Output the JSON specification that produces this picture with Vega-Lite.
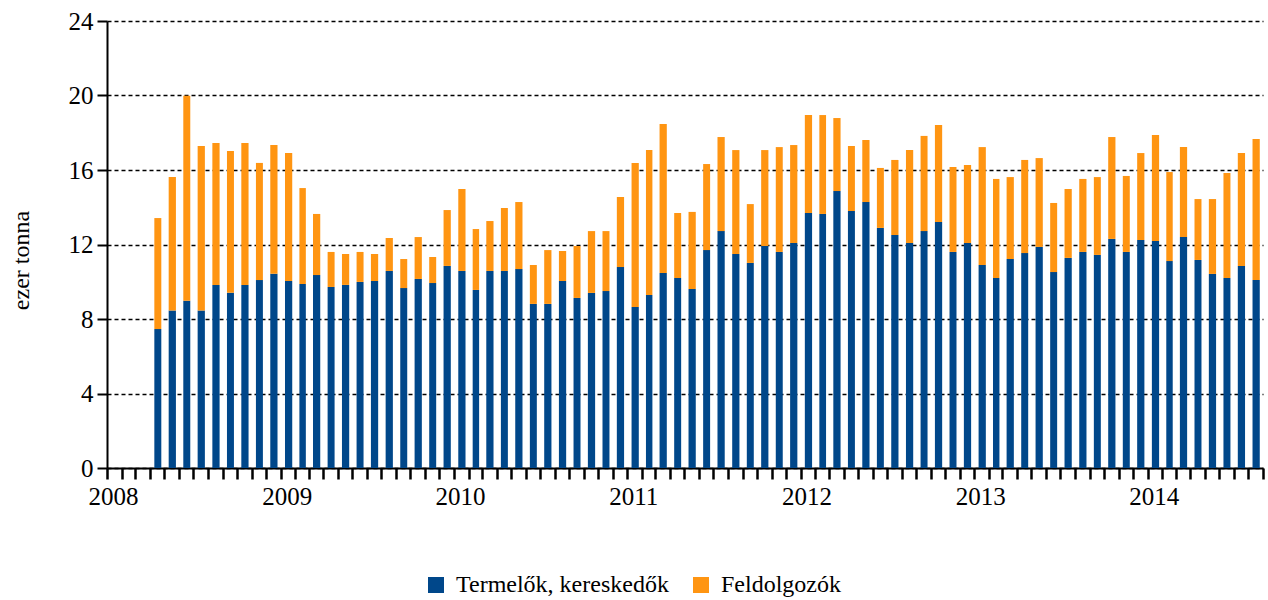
{
  "$schema": "https://vega.github.io/schema/vega-lite/v6.json",
  "width": 1156,
  "height": 447,
  "autosize": {"type": "none"},
  "padding": {"left": 107, "top": 21, "right": 5, "bottom": 132},
  "background": "white",
  "config": {"view": {"stroke": null}},
  "data": {
    "values": [
      {"d": "2008-04-01", "Termelők, kereskedők": 7.46, "Feldolgozók": 5.96},
      {"d": "2008-05-01", "Termelők, kereskedők": 8.45, "Feldolgozók": 7.17},
      {"d": "2008-06-01", "Termelők, kereskedők": 8.98, "Feldolgozók": 11.01},
      {"d": "2008-07-01", "Termelők, kereskedők": 8.45, "Feldolgozók": 8.84},
      {"d": "2008-08-01", "Termelők, kereskedők": 9.83, "Feldolgozók": 7.62},
      {"d": "2008-09-01", "Termelők, kereskedők": 9.41, "Feldolgozók": 7.61},
      {"d": "2008-10-01", "Termelők, kereskedők": 9.83, "Feldolgozók": 7.62},
      {"d": "2008-11-01", "Termelők, kereskedők": 10.09, "Feldolgozók": 6.29},
      {"d": "2008-12-01", "Termelők, kereskedők": 10.43, "Feldolgozók": 6.91},
      {"d": "2009-01-01", "Termelők, kereskedők": 10.04, "Feldolgozók": 6.87},
      {"d": "2009-02-01", "Termelők, kereskedők": 9.88, "Feldolgozók": 5.15},
      {"d": "2009-03-01", "Termelők, kereskedők": 10.36, "Feldolgozók": 3.28},
      {"d": "2009-04-01", "Termelők, kereskedők": 9.72, "Feldolgozók": 1.88},
      {"d": "2009-05-01", "Termelők, kereskedők": 9.83, "Feldolgozók": 1.66},
      {"d": "2009-06-01", "Termelők, kereskedők": 9.99, "Feldolgozók": 1.61},
      {"d": "2009-07-01", "Termelők, kereskedők": 10.04, "Feldolgozók": 1.45},
      {"d": "2009-08-01", "Termelők, kereskedők": 10.58, "Feldolgozók": 1.77},
      {"d": "2009-09-01", "Termelők, kereskedők": 9.66, "Feldolgozók": 1.56},
      {"d": "2009-10-01", "Termelők, kereskedők": 10.15, "Feldolgozók": 2.25},
      {"d": "2009-11-01", "Termelők, kereskedők": 9.93, "Feldolgozók": 1.40},
      {"d": "2009-12-01", "Termelők, kereskedők": 10.85, "Feldolgozók": 3.00},
      {"d": "2010-01-01", "Termelők, kereskedők": 10.58, "Feldolgozók": 4.40},
      {"d": "2010-02-01", "Termelők, kereskedők": 9.56, "Feldolgozók": 3.27},
      {"d": "2010-03-01", "Termelők, kereskedők": 10.58, "Feldolgozók": 2.68},
      {"d": "2010-04-01", "Termelők, kereskedők": 10.58, "Feldolgozók": 3.38},
      {"d": "2010-05-01", "Termelők, kereskedők": 10.68, "Feldolgozók": 3.60},
      {"d": "2010-06-01", "Termelők, kereskedők": 8.81, "Feldolgozók": 2.09},
      {"d": "2010-07-01", "Termelők, kereskedők": 8.81, "Feldolgozók": 2.89},
      {"d": "2010-08-01", "Termelők, kereskedők": 10.04, "Feldolgozók": 1.61},
      {"d": "2010-09-01", "Termelők, kereskedők": 9.13, "Feldolgozók": 2.79},
      {"d": "2010-10-01", "Termelők, kereskedők": 9.40, "Feldolgozók": 3.32},
      {"d": "2010-11-01", "Termelők, kereskedők": 9.50, "Feldolgozók": 3.22},
      {"d": "2010-12-01", "Termelők, kereskedők": 10.79, "Feldolgozók": 3.76},
      {"d": "2011-01-01", "Termelők, kereskedők": 8.64, "Feldolgozók": 7.74},
      {"d": "2011-02-01", "Termelők, kereskedők": 9.29, "Feldolgozók": 7.78},
      {"d": "2011-03-01", "Termelők, kereskedők": 10.47, "Feldolgozók": 8.00},
      {"d": "2011-04-01", "Termelők, kereskedők": 10.20, "Feldolgozók": 3.49},
      {"d": "2011-05-01", "Termelők, kereskedők": 9.61, "Feldolgozók": 4.14},
      {"d": "2011-06-01", "Termelők, kereskedők": 11.70, "Feldolgozók": 4.62},
      {"d": "2011-07-01", "Termelők, kereskedők": 12.72, "Feldolgozók": 5.05},
      {"d": "2011-08-01", "Termelők, kereskedők": 11.49, "Feldolgozók": 5.58},
      {"d": "2011-09-01", "Termelők, kereskedők": 11.01, "Feldolgozók": 3.16},
      {"d": "2011-10-01", "Termelők, kereskedők": 11.92, "Feldolgozók": 5.15},
      {"d": "2011-11-01", "Termelők, kereskedők": 11.60, "Feldolgozók": 5.63},
      {"d": "2011-12-01", "Termelők, kereskedők": 12.08, "Feldolgozók": 5.26},
      {"d": "2012-01-01", "Termelők, kereskedők": 13.69, "Feldolgozók": 5.26},
      {"d": "2012-02-01", "Termelők, kereskedők": 13.64, "Feldolgozók": 5.31},
      {"d": "2012-03-01", "Termelők, kereskedők": 14.87, "Feldolgozók": 3.92},
      {"d": "2012-04-01", "Termelők, kereskedők": 13.80, "Feldolgozók": 3.49},
      {"d": "2012-05-01", "Termelők, kereskedők": 14.28, "Feldolgozók": 3.33},
      {"d": "2012-06-01", "Termelők, kereskedők": 12.89, "Feldolgozók": 3.22},
      {"d": "2012-07-01", "Termelők, kereskedők": 12.51, "Feldolgozók": 4.03},
      {"d": "2012-08-01", "Termelők, kereskedők": 12.08, "Feldolgozók": 4.99},
      {"d": "2012-09-01", "Termelők, kereskedők": 12.72, "Feldolgozók": 5.11},
      {"d": "2012-10-01", "Termelők, kereskedők": 13.21, "Feldolgozók": 5.21},
      {"d": "2012-11-01", "Termelők, kereskedők": 11.60, "Feldolgozók": 4.56},
      {"d": "2012-12-01", "Termelők, kereskedők": 12.08, "Feldolgozók": 4.19},
      {"d": "2013-01-01", "Termelők, kereskedők": 10.90, "Feldolgozók": 6.33},
      {"d": "2013-02-01", "Termelők, kereskedők": 10.20, "Feldolgozók": 5.32},
      {"d": "2013-03-01", "Termelők, kereskedők": 11.22, "Feldolgozók": 4.40},
      {"d": "2013-04-01", "Termelők, kereskedők": 11.54, "Feldolgozók": 5.00},
      {"d": "2013-05-01", "Termelők, kereskedők": 11.87, "Feldolgozók": 4.77},
      {"d": "2013-06-01", "Termelők, kereskedők": 10.52, "Feldolgozók": 3.71},
      {"d": "2013-07-01", "Termelők, kereskedők": 11.28, "Feldolgozók": 3.70},
      {"d": "2013-08-01", "Termelők, kereskedők": 11.60, "Feldolgozók": 3.92},
      {"d": "2013-09-01", "Termelők, kereskedők": 11.44, "Feldolgozók": 4.18},
      {"d": "2013-10-01", "Termelők, kereskedők": 12.30, "Feldolgozók": 5.47},
      {"d": "2013-11-01", "Termelők, kereskedők": 11.60, "Feldolgozók": 4.08},
      {"d": "2013-12-01", "Termelők, kereskedők": 12.24, "Feldolgozók": 4.67},
      {"d": "2014-01-01", "Termelők, kereskedők": 12.19, "Feldolgozók": 5.69},
      {"d": "2014-02-01", "Termelők, kereskedők": 11.11, "Feldolgozók": 4.78},
      {"d": "2014-03-01", "Termelők, kereskedők": 12.40, "Feldolgozók": 4.83},
      {"d": "2014-04-01", "Termelők, kereskedők": 11.17, "Feldolgozók": 3.27},
      {"d": "2014-05-01", "Termelők, kereskedők": 10.42, "Feldolgozók": 4.02},
      {"d": "2014-06-01", "Termelők, kereskedők": 10.20, "Feldolgozók": 5.64},
      {"d": "2014-07-01", "Termelők, kereskedők": 10.85, "Feldolgozók": 6.06},
      {"d": "2014-08-01", "Termelők, kereskedők": 10.09, "Feldolgozók": 7.57}
    ]
  },
  "transform": [
    {"fold": ["Termelők, kereskedők", "Feldolgozók"], "as": ["series", "value"]}
  ],
  "mark": {"type": "bar", "width": {"band": 0.56}},
  "encoding": {
    "x": {
      "field": "d",
      "type": "temporal",
      "timeUnit": "utcyearmonth",
      "title": null,
      "scale": {
        "type": "utc",
        "domain": [
          {"year": 2008, "month": 1, "date": 1, "utc": true},
          {"year": 2014, "month": 9, "date": 1, "utc": true}
        ]
      },
      "axis": {
        "tickCount": {"interval": "month", "step": 1},
        "labelExpr": "utcmonth(datum.value) == 0 ? utcFormat(datum.value, '%Y') : ''",
        "grid": false,
        "domainColor": "black",
        "domainWidth": 2,
        "tickColor": "black",
        "tickWidth": 2.5,
        "tickSize": 11,
        "labelFont": "Liberation Serif",
        "labelFontSize": 25,
        "labelColor": "black",
        "labelPadding": 5,
        "labelOffset": 6,
        "labelOverlap": false,
        "labelFlush": false
      }
    },
    "y": {
      "field": "value",
      "type": "quantitative",
      "stack": "zero",
      "scale": {"domain": [0, 24], "nice": false},
      "axis": {
        "values": [0, 4, 8, 12, 16, 20, 24],
        "title": "ezer tonna",
        "titleFont": "Liberation Serif",
        "titleFontSize": 24,
        "titleFontWeight": "normal",
        "titleColor": "black",
        "titleAngle": -90,
        "titleX": -86,
        "titleY": 239,
        "titleAlign": "center",
        "titleBaseline": "middle",
        "grid": true,
        "gridDash": [4, 3],
        "gridColor": "black",
        "gridWidth": 1.5,
        "domainColor": "black",
        "domainWidth": 2,
        "tickColor": "black",
        "tickWidth": 2,
        "tickSize": 10,
        "labelFont": "Liberation Serif",
        "labelFontSize": 25,
        "labelColor": "black",
        "labelPadding": 4
      }
    },
    "color": {
      "field": "series",
      "type": "nominal",
      "sort": ["Termelők, kereskedők", "Feldolgozók"],
      "scale": {
        "domain": ["Termelők, kereskedők", "Feldolgozók"],
        "range": ["#00478A", "#FF9512"]
      },
      "legend": {
        "title": null,
        "orient": "none",
        "direction": "horizontal",
        "legendX": 317,
        "legendY": 552,
        "symbolType": "square",
        "symbolSize": 256,
        "symbolStrokeWidth": 0,
        "symbolOpacity": 1,
        "labelFont": "Liberation Serif",
        "labelFontSize": 24,
        "labelColor": "black",
        "labelOffset": 8,
        "labelLimit": 0,
        "columnPadding": 20
      }
    }
  }
}
